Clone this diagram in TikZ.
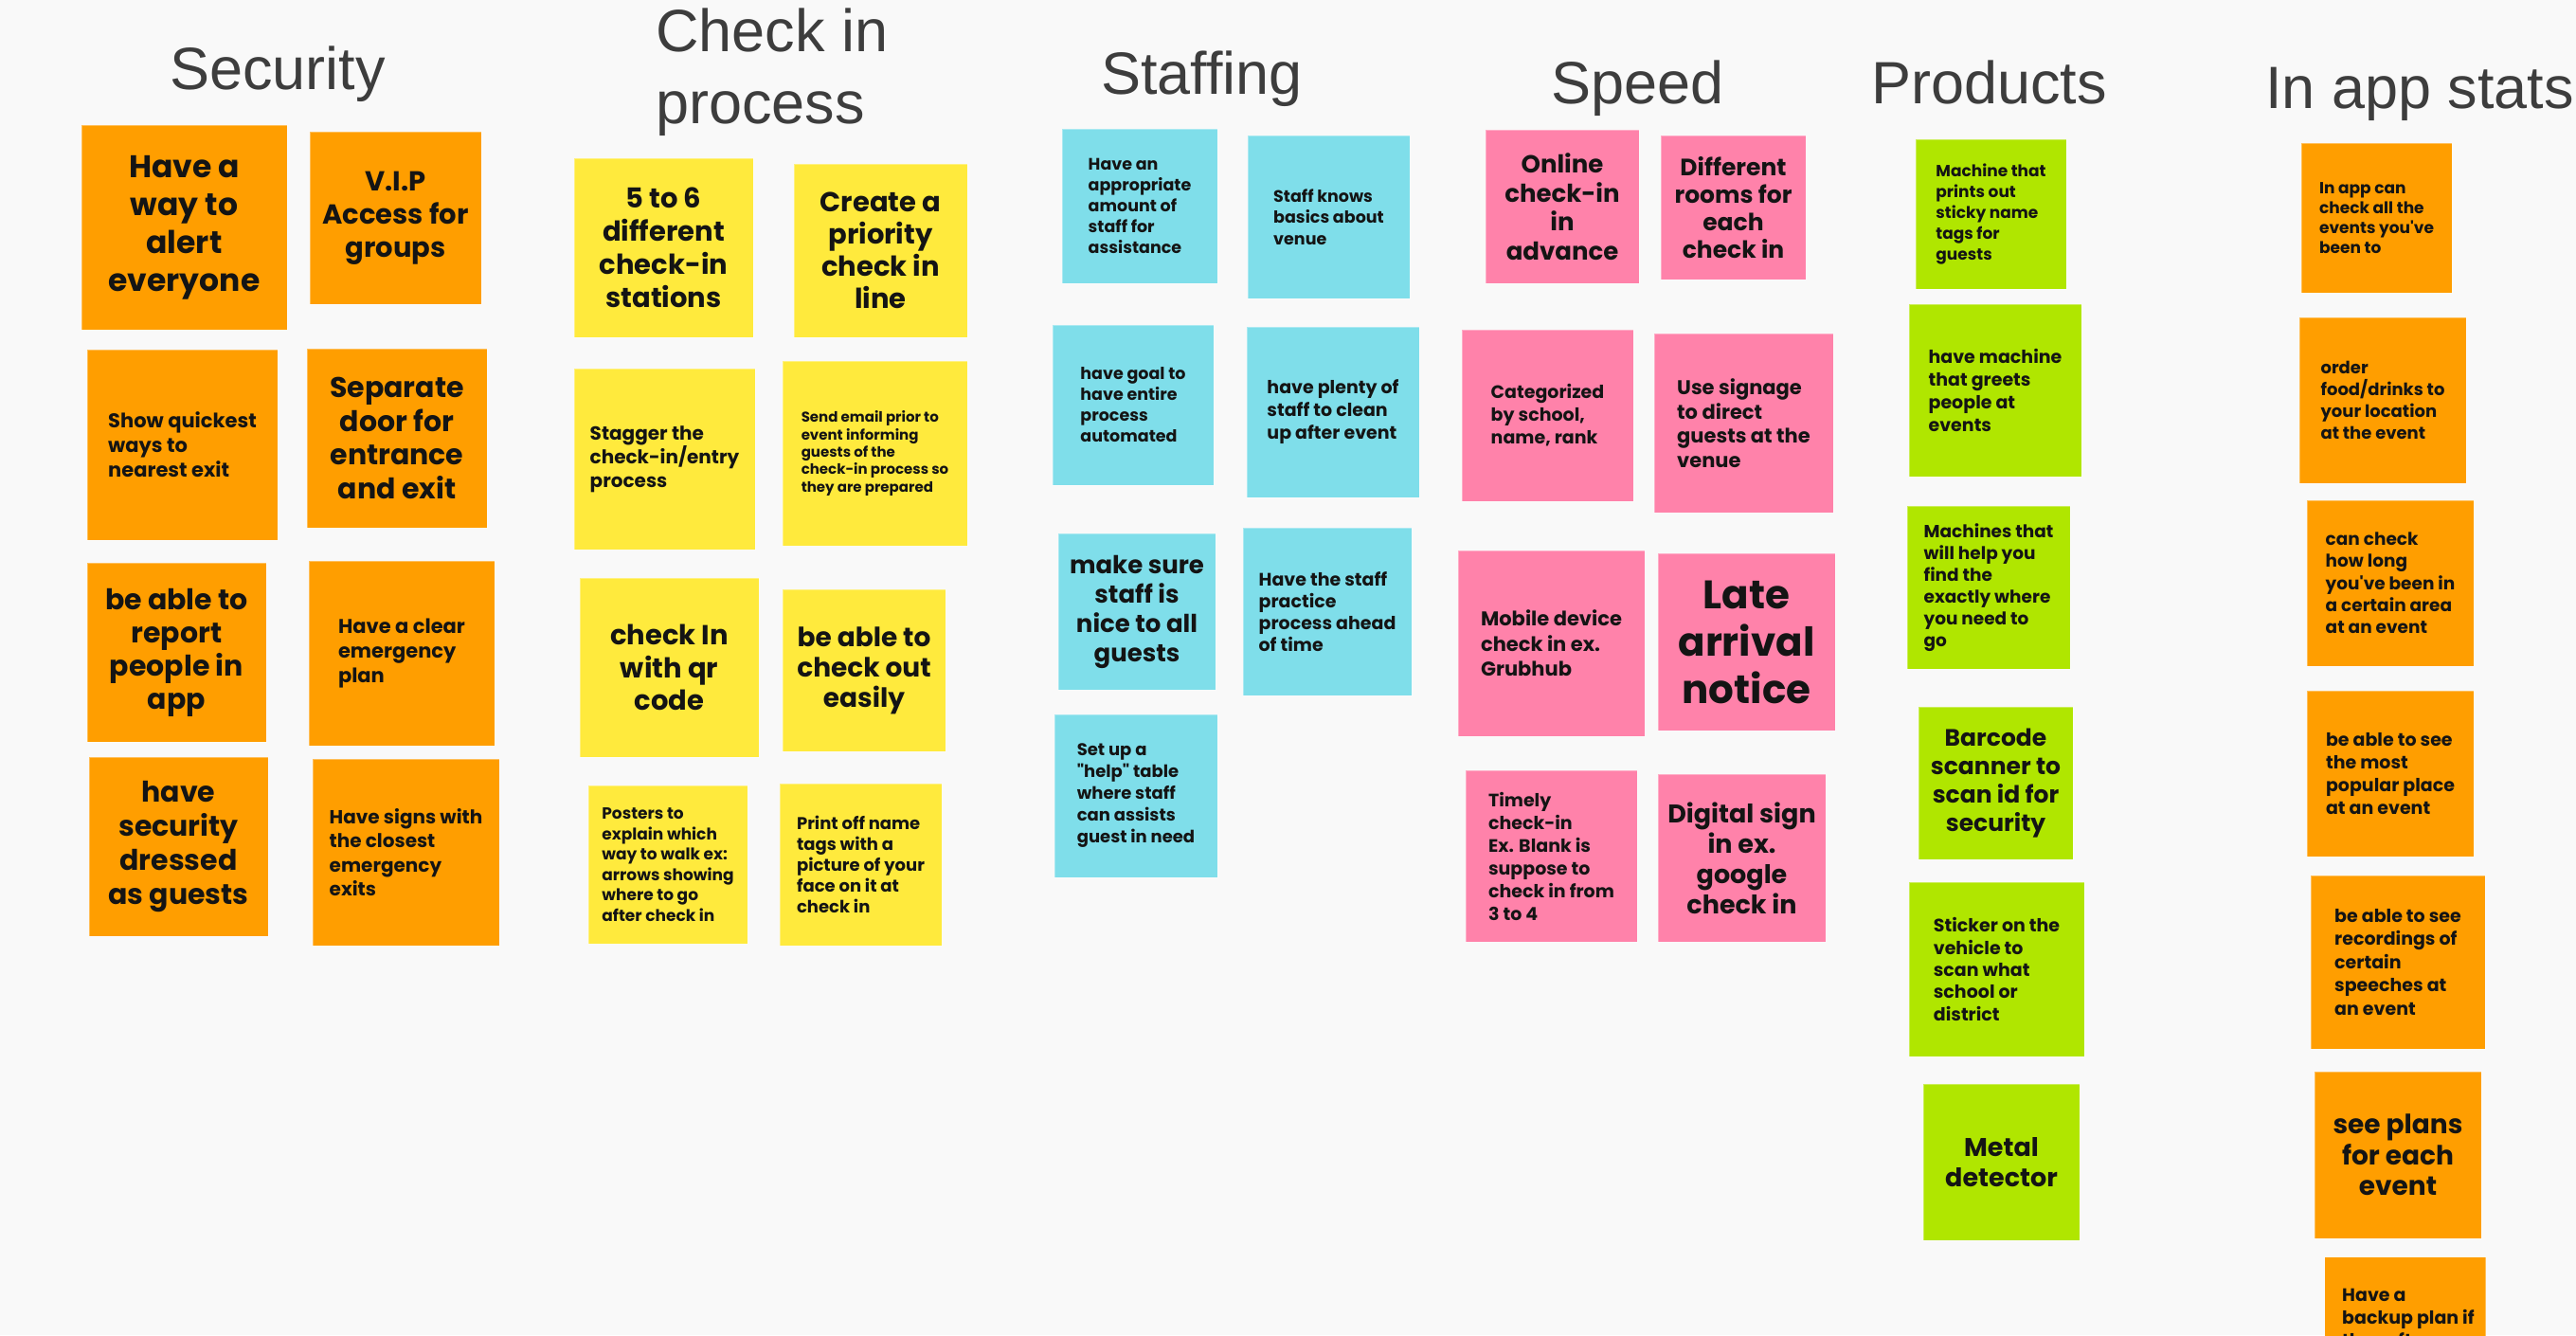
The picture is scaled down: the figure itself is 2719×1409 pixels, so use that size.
\documentclass[tikz,border=0pt]{standalone}
\usepackage{fontspec}
\newfontfamily\notefont{Poppins}
\newfontfamily\titlefont{Liberation Sans}
\definecolor{bgc}{HTML}{F9F9F9}
\definecolor{titlec}{HTML}{3D3D3D}
\definecolor{orng}{HTML}{FF9E00}
\definecolor{yel}{HTML}{FFEA3D}
\definecolor{cyn}{HTML}{7FDEEA}
\definecolor{pnk}{HTML}{FF82AA}
\definecolor{grn}{HTML}{B0E600}
% #1 name, #2 colour, #3 x1, #4 y1, #5 x2, #6 y2, #7 align, #8 {size}{skip}, #9 text
\newcommand\mknote[9]{%
  \pgfmathsetmacro\nw{#5-#3}\pgfmathsetmacro\nh{#6-#4}%
  \pgfmathsetmacro\ncx{(#3+#5)/2}\pgfmathsetmacro\ncy{(#4+#6)/2}%
  \node[stickynote, fill=#2, minimum width=\nw pt, minimum height=\nh pt, align=#7,
        font={\notefont\bfseries\fontsize#8\selectfont}] (#1) at (\ncx,\ncy) {#9};}
\begin{document}
\begin{tikzpicture}[x=1pt,y=-1pt,
  stickynote/.style={inner sep=0pt, text=black!92, draw=white, draw opacity=0.35, line width=1pt},
  title/.style={font={\titlefont\fontsize{63}{76}\selectfont}, text=titlec, inner sep=0pt, anchor=base west}]
\useasboundingbox (0,0) rectangle (2719,1409);
\fill[bgc] (0,0) rectangle (2719,1409);
\clip (0,0) rectangle (2719,1409);

% titles
\node[title] (tsec) at (179,94) {Security};
\node[title] (tchk1) at (692,54) {Check in};
\node[title] (tchk2) at (692,130) {process};
\node[title] (tstf) at (1162,99) {Staffing};
\node[title] (tspd) at (1637,109) {Speed};
\node[title] (tprd) at (1975,109) {Products};
\node[title] (tapp) at (2391,114) {In app stats};

% Security
\mknote{s1}{orng}{86}{132}{303}{348}{center}{{33}{40}}{Have a\\way to\\alert\\everyone}
\mknote{s2}{orng}{327}{139}{508}{321}{center}{{29}{35}}{V.I.P\\Access for\\groups}
\mknote{s3}{orng}{92}{369}{293}{570}{left}{{21}{26}}{Show quickest\\ways to\\nearest exit}
\mknote{s4}{orng}{324}{368}{514}{557}{center}{{30}{35.5}}{Separate\\door for\\entrance\\and exit}
\mknote{s5}{orng}{92}{594}{281}{783}{center}{{30}{35}}{be able to\\report\\people in\\app}
\mknote{s6}{orng}{326}{592}{522}{787}{left}{{21}{26}}{Have a clear\\emergency\\plan}
\mknote{s7}{orng}{94}{799}{283}{988}{center}{{30}{36}}{have\\security\\dressed\\as guests}
\mknote{s8}{orng}{330}{801}{527}{998}{left}{{20}{25.5}}{Have signs with\\the closest\\emergency\\exits}

% Check in process
\mknote{c1}{yel}{606}{167}{795}{356}{center}{{29}{35}}{5 to 6\\different\\check-in\\stations}
\mknote{c2}{yel}{838}{173}{1021}{356}{center}{{29}{34}}{Create a\\priority\\check in\\line}
\mknote{c3}{yel}{606}{389}{797}{580}{left}{{20}{25}}{Stagger the\\check-in/entry\\process}
\mknote{c4}{yel}{826}{381}{1021}{576}{left}{{15}{18.4}}{Send email prior to\\event informing\\guests of the\\check-in process so\\they are prepared}
\mknote{c5}{yel}{612}{610}{801}{799}{center}{{29}{34.5}}{check In\\with qr\\code}
\mknote{c6}{yel}{826}{622}{998}{793}{center}{{28}{32}}{be able to\\check out\\easily}
\mknote{c7}{yel}{621}{829}{789}{996}{left}{{17}{21.5}}{Posters to\\explain which\\way to walk ex:\\arrows showing\\where to go\\after check in}
\mknote{c8}{yel}{823}{827}{994}{998}{left}{{18}{22}}{Print off name\\tags with a\\picture of your\\face on it at\\check in}

% Staffing
\mknote{t1}{cyn}{1121}{136}{1285}{299}{left}{{17.5}{22}}{Have an\\appropriate\\amount of\\staff for\\assistance}
\mknote{t2}{cyn}{1317}{143}{1488}{315}{left}{{17.5}{22.5}}{Staff knows\\basics about\\venue}
\mknote{t3}{cyn}{1111}{343}{1281}{512}{left}{{17.5}{22}}{have goal to\\have entire\\process\\automated}
\mknote{t4}{cyn}{1316}{345}{1498}{525}{left}{{19}{24}}{have plenty of\\staff to clean\\up after event}
\mknote{t5}{cyn}{1117}{563}{1283}{728}{center}{{26}{31}}{make sure\\staff is\\nice to all\\guests}
\mknote{t6}{cyn}{1312}{557}{1490}{734}{left}{{19}{23}}{Have the staff\\practice\\process ahead\\of time}
\mknote{t7}{cyn}{1113}{754}{1285}{926}{left}{{18}{23}}{Set up a\\"help" table\\where staff\\can assists\\guest in need}

% Speed
\mknote{p1}{pnk}{1568}{137}{1730}{299}{center}{{26}{30.5}}{Online\\check-in\\in\\advance}
\mknote{p2}{pnk}{1753}{143}{1906}{295}{center}{{25}{29}}{Different\\rooms for\\each\\check in}
\mknote{p3}{pnk}{1543}{348}{1724}{529}{left}{{19}{24}}{Categorized\\by school,\\name, rank}
\mknote{p4}{pnk}{1746}{352}{1935}{541}{left}{{21}{25.5}}{Use signage\\to direct\\guests at the\\venue}
\mknote{p5}{pnk}{1539}{581}{1736}{777}{left}{{21}{26.5}}{Mobile device\\check in ex.\\Grubhub}
\mknote{p6}{pnk}{1750}{584}{1937}{771}{center}{{42}{50}}{Late\\arrival\\notice}
\mknote{p7}{pnk}{1547}{813}{1728}{994}{left}{{19}{24}}{Timely\\check-in\\Ex. Blank is\\suppose to\\check in from\\3 to 4}
\mknote{p8}{pnk}{1750}{817}{1927}{994}{center}{{27}{32}}{Digital sign\\in ex.\\google\\check in}

% Products
\mknote{g1}{grn}{2022}{147}{2181}{305}{left}{{17}{21.8}}{Machine that\\prints out\\sticky name\\tags for\\guests}
\mknote{g2}{grn}{2015}{321}{2197}{503}{left}{{19}{24}}{have machine\\that greets\\people at\\events}
\mknote{g3}{grn}{2013}{534}{2185}{706}{left}{{18.5}{23}}{Machines that\\will help you\\find the\\exactly where\\you need to\\go}
\mknote{g4}{grn}{2025}{746}{2188}{907}{center}{{25}{30}}{Barcode\\scanner to\\scan id for\\security}
\mknote{g5}{grn}{2015}{931}{2200}{1115}{left}{{19}{23.4}}{Sticker on the\\vehicle to\\scan what\\school or\\district}
\mknote{g6}{grn}{2030}{1144}{2195}{1309}{center}{{27}{32}}{Metal\\detector}

% In app stats
\mknote{a1}{orng}{2429}{151}{2588}{309}{left}{{17}{21}}{In app can\\check all the\\events you've\\been to}
\mknote{a2}{orng}{2427}{335}{2603}{510}{left}{{18}{23}}{order\\food/drinks to\\your location\\at the event}
\mknote{a3}{orng}{2435}{528}{2611}{703}{left}{{18.5}{23.3}}{can check\\how long\\you've been in\\a certain area\\at an event}
\mknote{a4}{orng}{2435}{729}{2611}{904}{left}{{19}{24}}{be able to see\\the most\\popular place\\at an event}
\mknote{a5}{orng}{2439}{924}{2623}{1107}{left}{{19}{24.5}}{be able to see\\recordings of\\certain\\speeches at\\an event}
\mknote{a6}{orng}{2443}{1131}{2619}{1307}{center}{{28}{32.6}}{see plans\\for each\\event}
\node[stickynote, fill=orng, minimum width=170pt, minimum height=180pt, anchor=north west] (a7) at (2453,1326) {};
\node[inner sep=0pt, anchor=north west, align=left, text=black!92,
      font={\notefont\bfseries\fontsize{19}{24}\selectfont}] (a7t) at (2472,1360) {Have a\\backup plan if\\the software};
\end{tikzpicture}
\end{document}
